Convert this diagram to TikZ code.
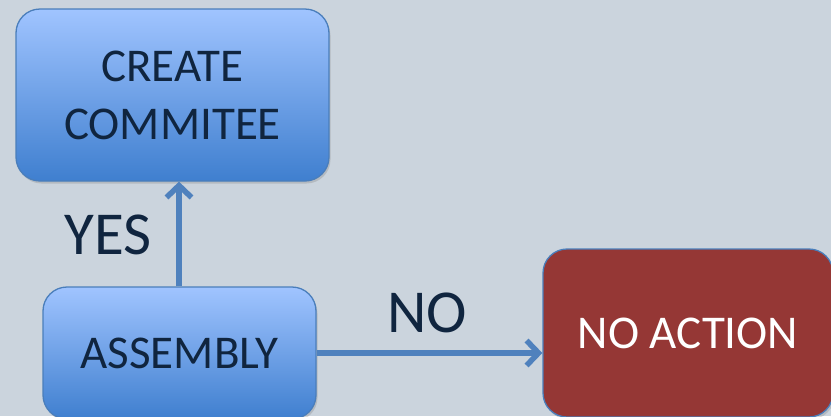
\documentclass[tikz,border=0pt]{standalone}
\usepackage{fontspec}
\setmainfont{Carlito}
\usetikzlibrary{arrows.meta,shadows}
\definecolor{bgcol}{HTML}{CBD4DD}
\definecolor{boxtop}{HTML}{A0C4FF}
\definecolor{boxbot}{HTML}{3F7FCF}
\definecolor{edgecol}{HTML}{4A7EBB}
\definecolor{txtcol}{HTML}{10253F}
\definecolor{redbox}{HTML}{953735}
\definecolor{arrowcol}{HTML}{4F81BD}
\tikzset{
  bluebox/.style={draw=edgecol, line width=1.3pt, rounded corners=24pt,
    top color=boxtop, bottom color=boxbot, text=txtcol,
    drop shadow={shadow xshift=1.5pt, shadow yshift=-2.5pt, opacity=0.3},
    font=\fontsize{47}{58}\selectfont, align=center, inner sep=0pt},
  redboxstyle/.style={draw=edgecol, line width=1.3pt, rounded corners=24pt,
    fill=redbox, text=white, font=\fontsize{47}{58}\selectfont, inner sep=0pt,
    drop shadow={shadow xshift=1.5pt, shadow yshift=-2.5pt, opacity=0.3}},
  flowarrow/.style={draw=arrowcol, line width=5.5pt,
    -{Straight Barb[length=12pt,width=25pt]}},
  biglabel/.style={text=txtcol, font=\fontsize{61}{70}\selectfont, inner sep=0pt}
}
\begin{document}
\begin{tikzpicture}[x=1pt,y=-1pt]
\useasboundingbox (0,0) rectangle (831,416);
\clip (0,0) rectangle (831,416);
\fill[bgcol] (0,0) rectangle (831,416);
\node[bluebox, minimum width=313pt, minimum height=172pt] (create) at (172.5,95) {CREATE\\COMMITEE};
\node[bluebox, minimum width=273pt, minimum height=132pt] (assembly) at (179.5,353) {ASSEMBLY};
\node[redboxstyle, minimum width=290pt, minimum height=168pt] (noaction) at (688,333) {NO ACTION};
\draw[flowarrow] (assembly.north -| 179,0) -- (create.south -| 179,0);
\draw[flowarrow] (assembly.east |- 0,353) -- (noaction.west |- 0,353);
\node[biglabel] (yes) at (108,235) {YES};
\node[biglabel] (no) at (427,313) {NO};
\end{tikzpicture}
\end{document}
